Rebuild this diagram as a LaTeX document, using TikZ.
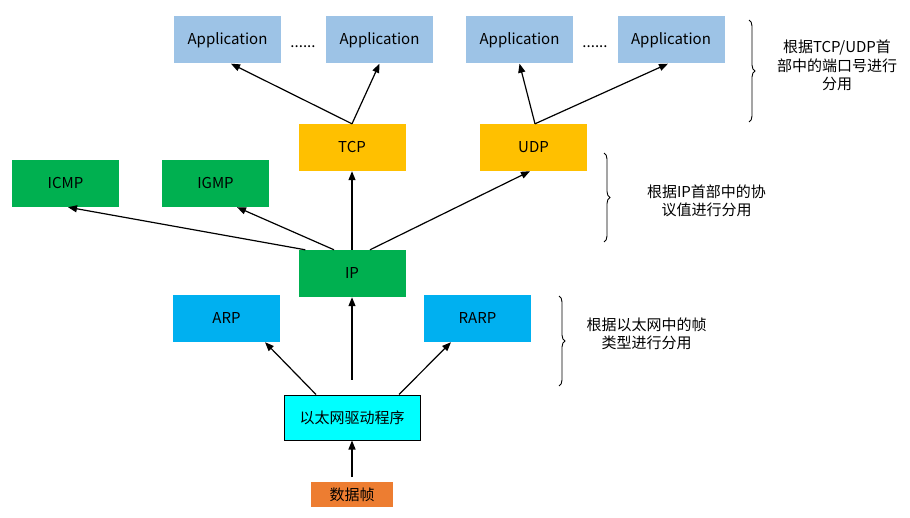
\documentclass[tikz,border=0pt]{standalone}
\usepackage{fontspec}
\setmainfont{Noto Sans CJK SC}
\usetikzlibrary{arrows.meta,decorations.pathreplacing}
\definecolor{appblue}{RGB}{157,195,230}
\definecolor{tpyellow}{RGB}{255,192,0}
\definecolor{ipgreen}{RGB}{0,176,80}
\definecolor{arpblue}{RGB}{0,176,240}
\definecolor{drvcyan}{RGB}{0,255,255}
\definecolor{frameorange}{RGB}{237,125,49}
\begin{document}
\begin{tikzpicture}[x=1pt,y=-1pt,
  every node/.style={font=\fontsize{15}{18.5}\selectfont},
  box/.style={minimum width=107pt,minimum height=47pt,inner sep=0pt},
  appbox/.style={box,fill=appblue},
  tpbox/.style={box,fill=tpyellow},
  ipbox/.style={box,fill=ipgreen},
  arpbox/.style={box,fill=arpblue},
  drvbox/.style={minimum width=136pt,minimum height=45pt,inner sep=0pt,fill=drvcyan,draw=black,line width=1pt},
  framebox/.style={minimum width=82pt,minimum height=25pt,inner sep=0pt,fill=frameorange},
  arr/.style={-{Triangle[length=9pt,width=7pt]},line width=1.2pt},
  note/.style={align=center,inner sep=0pt},
  bracedeco/.style={decorate,decoration={brace,amplitude=6pt},line width=0.9pt},
  dots/.style={inner sep=0pt,anchor=base}
]
\useasboundingbox (0,0) rectangle (910,518);
\fill[white] (0,0) rectangle (910,518);

% application layer
\node[appbox] (app1) at (227.5,40) {Application};
\node[appbox] (app2) at (379.5,40) {Application};
\node[appbox] (app3) at (519.5,40) {Application};
\node[appbox] (app4) at (671,40) {Application};
\node[dots] (d1) at (303,48) {......};
\node[dots] (d2) at (595,48) {......};

% transport
\node[tpbox] (tcp) at (352,147.5) {TCP};
\node[tpbox] (udp) at (533.5,147.5) {UDP};

% network
\node[ipbox] (icmp) at (65.5,183.5) {ICMP};
\node[ipbox] (igmp) at (215.5,183.5) {IGMP};
\node[ipbox] (ip) at (352,273.5) {IP};

% link
\node[arpbox] (arp) at (226.5,318.5) {ARP};
\node[arpbox] (rarp) at (477.5,318.5) {RARP};
\node[drvbox] (drv) at (352,417.5) {以太网驱动程序};
\node[framebox] (frm) at (352,494.5) {数据帧};

\coordinate (ipin) at (352,380);
\coordinate (frmout) at (352,477);

% arrows
\draw[arr] (tcp.north) -- ([xshift=3.5pt]app1.south);
\draw[arr] (tcp.north) -- (app2.south);
\draw[arr] ([xshift=1.5pt]udp.north) -- (app3.south);
\draw[arr] ([xshift=1.5pt]udp.north) -- ([xshift=-3pt]app4.south);
\draw[arr] ([xshift=7pt]ip.north west) -- ([xshift=2.5pt]icmp.south);
\draw[arr] ([xshift=-18pt]ip.north) -- ([xshift=21.5pt]igmp.south);
\draw[arr] (ip.north) -- (tcp.south);
\draw[arr] ([xshift=18pt]ip.north) -- ([xshift=-3.5pt]udp.south);
\draw[arr] ([xshift=-36pt]drv.north) -- ([xshift=38.5pt]arp.south);
\draw[arr] (ipin) -- (ip.south);
\draw[arr] ([xshift=47pt]drv.north) -- ([xshift=-26.5pt]rarp.south);
\draw[arr] (frmout) -- (drv.south);

% braces
\draw[bracedeco] (749,20) -- (749,122);
\draw[bracedeco] (604,153) -- (604,242);
\draw[bracedeco] (559,296) -- (559,386);

% notes
\node[note] (n1) at (837,65.5) {根据TCP/UDP首\\部中的端口号进行\\分用};
\node[note] (n2) at (706.5,201) {根据IP首部中的协\\议值进行分用};
\node[note] (n3) at (646.5,334) {根据以太网中的帧\\类型进行分用};
\end{tikzpicture}
\end{document}
